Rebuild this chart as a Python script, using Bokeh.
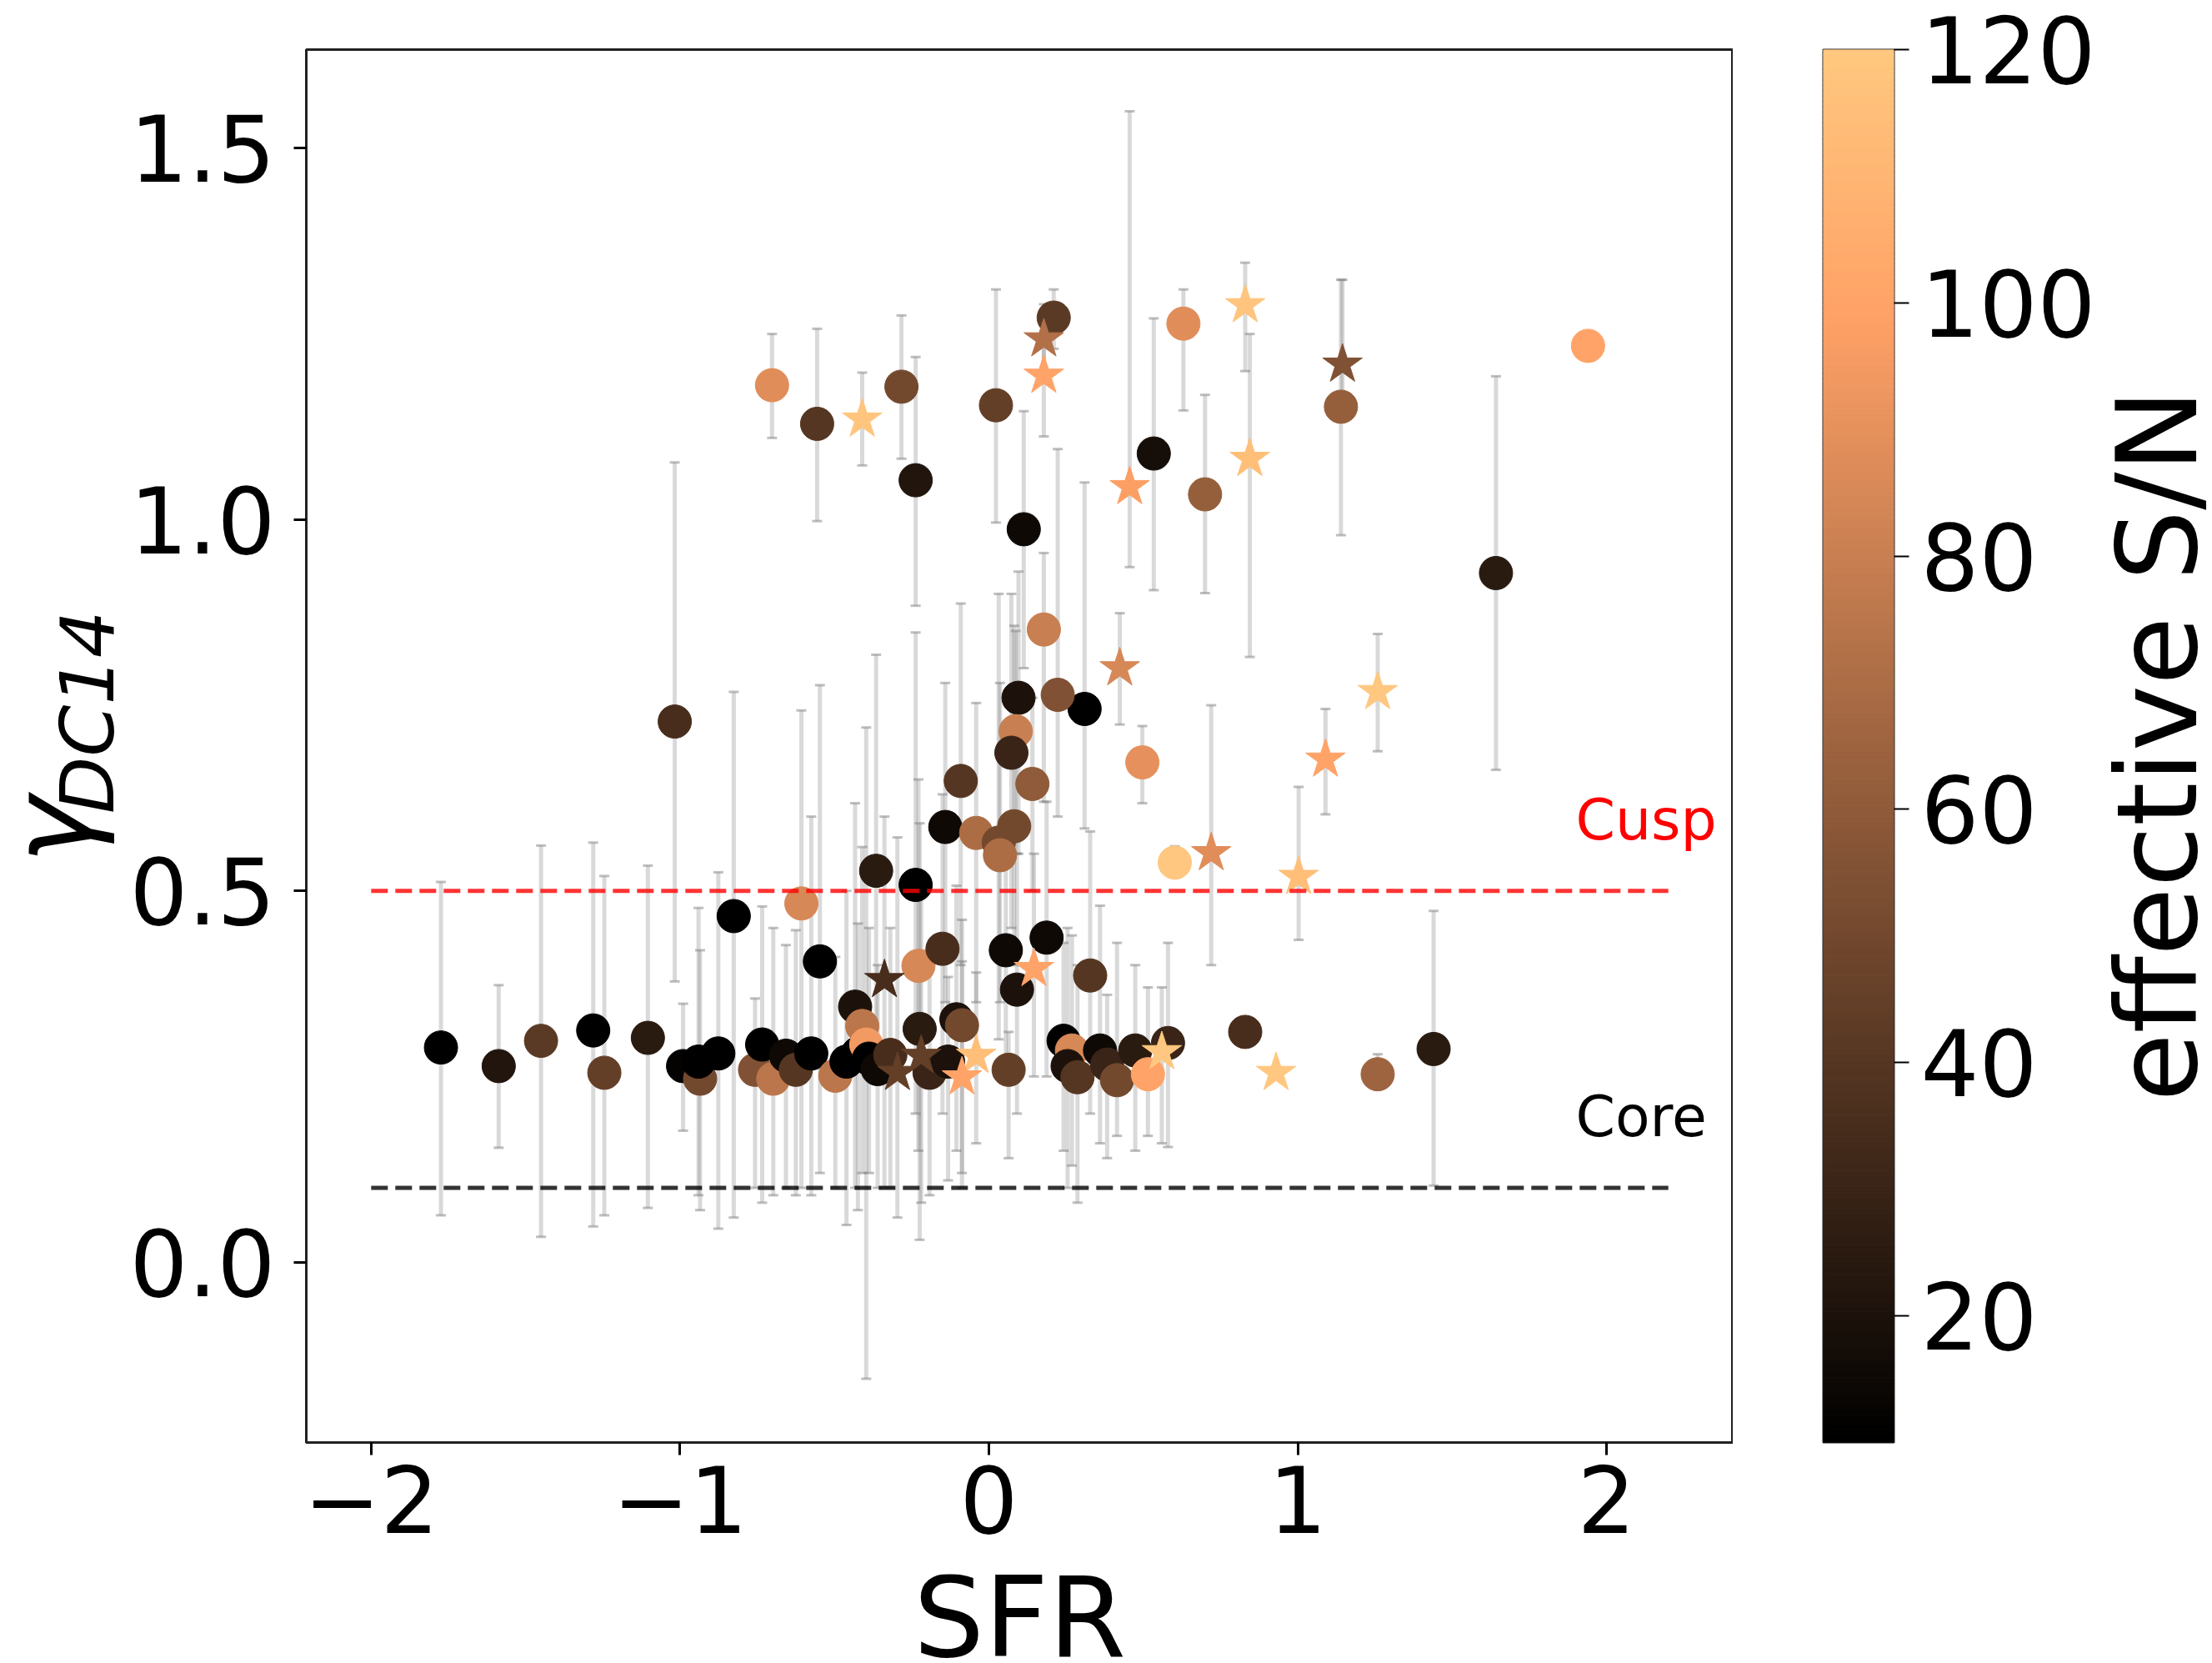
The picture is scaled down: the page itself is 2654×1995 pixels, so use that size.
import numpy as np
from bokeh.plotting import figure
from bokeh.models import ColumnDataSource, Label, FixedTicker, Range1d, PrintfTickFormatter
from bokeh.layouts import row, column
from bokeh.transform import linear_cmap
from bokeh.embed import file_html
from bokeh.resources import INLINE

# ---------------- data ----------------
sfr = [-0.702, -0.556, -0.41, -0.283, -0.237, 0.023, 0.21, 0.178, 0.178, 0.534,
       0.63, 0.83, 0.845, 0.70, 0.456, 1.145, 1.14, 1.94, 1.642, 0.113,
       0.178, 0.096, 0.31, 0.223, -1.017, 1.259, 1.09, 0.602, 0.72, 1.003,
       1.44, 1.259, 0.93, 0.83, 0.58, 0.56, 0.424, 0.497,
       0.087, 0.073, 0.141, -0.091, -0.141, -0.041, 0.082, 0.032, 0.036, -0.365,
       -0.237, -0.607, -0.826, -0.547, -0.338, -0.228, -0.15, 0.055, 0.187, 0.146,
       0.091, 0.328, -0.433, -0.41,
       -1.774, -1.587, -1.45, -1.281, -1.245, -1.104, -0.99, -0.935, -0.94, -0.876,
       -0.757, -0.734, -0.698, -0.657, -0.625, -0.575, -0.497, -0.461, -0.424, -0.397,
       -0.388, -0.36, -0.296, -0.319, -0.224, -0.219, -0.192, -0.105, -0.087, -0.041,
       -0.087, -0.132, 0.064, 0.242, 0.269, 0.255, 0.287, 0.36, 0.383, 0.415,
       0.474, 0.515]
gamma = [1.181, 1.129, 1.135, 1.179, 1.053, 1.154, 1.272, 1.243, 1.194, 1.089,
         1.264, 1.289, 1.082, 1.034, 1.044, 1.209, 1.152, 1.234, 0.928, 0.987,
         0.852, 0.760, 0.745, 0.764, 0.728, 0.768, 0.677, 0.538, 0.551, 0.519,
         0.287, 0.253, 0.255, 0.310, 0.295, 0.283, 0.800, 0.673,
         0.715, 0.686, 0.644, 0.648, 0.586, 0.578, 0.587, 0.565, 0.548, 0.527,
         0.508, 0.483, 0.466, 0.405, 0.380, 0.399, 0.422, 0.420, 0.437, 0.395,
         0.367, 0.386, 0.344, 0.318,
         0.289, 0.264, 0.298, 0.312, 0.255, 0.302, 0.264, 0.247, 0.270, 0.281,
         0.259, 0.293, 0.247, 0.278, 0.259, 0.281, 0.251, 0.270, 0.281, 0.293,
         0.274, 0.260, 0.255, 0.279, 0.314, 0.278, 0.255, 0.327, 0.319, 0.278,
         0.249, 0.270, 0.259, 0.298, 0.285, 0.264, 0.249, 0.285, 0.266, 0.245,
         0.285, 0.253]
gamma_lo = [1.11, 0.998, 1.073, 1.082, 0.884, 0.996, 1.23, 1.20, 1.112, 0.905,
            1.147, 1.20, 0.815, 0.901, 0.936, 1.15, 0.979, 1.22, 0.663, 0.80,
            0.62, 0.55, 0.584, 0.60, 0.378, 0.688, 0.603, 0.52, 0.40, 0.434,
            0.103, 0.24, 0.25, 0.30, 0.155, 0.16, 0.724, 0.618,
            0.55, 0.45, 0.50, 0.40, 0.35, 0.35, 0.40, 0.30, 0.35, 0.25,
            0.20, 0.10, 0.06, 0.12, 0.10, 0.15, 0.20, 0.25, 0.25, 0.25,
            0.20, 0.20, 0.10, 0.12,
            0.063, 0.154, 0.034, 0.048, 0.063, 0.073, 0.177, 0.07, 0.09, 0.045,
            0.10, 0.08, 0.09, 0.10, 0.09, 0.09, 0.10, 0.05, 0.07, -0.157,
            0.12, 0.10, 0.06, 0.10, 0.03, 0.08, 0.09, 0.15, 0.10, 0.16,
            0.12, 0.11, 0.14, 0.15, 0.13, 0.10, 0.08, 0.16, 0.14, 0.17,
            0.15, 0.17]
gamma_hi = [1.25, 1.257, 1.198, 1.275, 1.219, 1.31, 1.31, 1.29, 1.28, 1.271,
            1.31, 1.346, 1.25, 1.168, 1.55, 1.323, 1.323, 1.25, 1.193, 1.146,
            0.955, 0.93, 1.05, 1.095, 1.077, 0.846, 0.745, 0.56, 0.75, 0.64,
            0.473, 0.28, 0.26, 0.32, 0.43, 0.37, 0.874, 0.722,
            0.85, 0.90, 0.76, 0.887, 0.78, 0.753, 0.857, 0.90, 0.78, 0.818,
            0.848, 0.743, 0.768, 0.777, 0.60, 0.65, 0.63, 0.60, 0.62, 0.55,
            0.55, 0.58, 0.618, 0.559,
            0.512, 0.373, 0.561, 0.565, 0.52, 0.534, 0.348, 0.42, 0.477, 0.525,
            0.355, 0.479, 0.45, 0.427, 0.447, 0.60, 0.411, 0.50, 0.456, 0.72,
            0.45, 0.40, 0.572, 0.45, 0.591, 0.50, 0.42, 0.507, 0.461, 0.39,
            0.405, 0.384, 0.31, 0.43, 0.44, 0.45, 0.40, 0.48, 0.36, 0.43,
            0.40, 0.37]
snr = [88, 40, 118, 50, 22, 45, 42, 72, 100, 18,
       88, 118, 115, 62, 98, 55, 62, 100, 25, 15,
       80, 20, 10, 55, 35, 120, 100, 120, 88, 115,
       25, 65, 120, 35, 30, 120, 85, 90,
       80, 30, 60, 40, 15, 70, 50, 50, 70, 25,
       10, 85, 10, 10, 35, 85, 35, 15, 15, 100,
       20, 40, 20, 75,
       10, 22, 42, 10, 45, 25, 12, 50, 10, 10,
       55, 10, 75, 15, 40, 10, 75, 10, 10, 95,
       10, 15, 45, 35, 25, 45, 30, 20, 50, 115,
       100, 20, 45, 10, 85, 20, 40, 15, 30, 50,
       25, 100]
shape = ["o", "o", "*", "o", "o", "o", "o", "*", "*", "o",
         "o", "*", "*", "o", "*", "*", "o", "o", "o", "o",
         "o", "o", "o", "o", "o", "*", "*", "o", "*", "*",
         "o", "o", "*", "o", "o", "*", "*", "o",
         "o", "o", "o", "o", "o", "o", "o", "o", "o", "o",
         "o", "o", "o", "o", "*", "o", "o", "o", "o", "*",
         "o", "o", "o", "o",
         "o", "o", "o", "o", "o", "o", "o", "o", "o", "o",
         "o", "o", "o", "o", "o", "o", "o", "o", "o", "o",
         "o", "o", "*", "o", "o", "*", "o", "o", "o", "*",
         "*", "o", "o", "o", "o", "o", "o", "o", "o", "o",
         "o", "o"]

x_ticks = [-2, -1, 0, 1, 2]
y_ticks = [0.0, 0.5, 1.0, 1.5]
cbar_ticks = [20, 40, 60, 80, 100, 120]
sn_low, sn_high = 10, 120
cusp_level, core_level = 0.5, 0.1
line_x = [-2.0, 2.2]

# ---------------- colormap (matplotlib "copper") ----------------
def copper(n=256):
    cols = []
    for i in range(n):
        t = i / (n - 1)
        r = min(1.0, t / 0.809524)
        g = 0.7812 * t
        b = 0.4975 * t
        cols.append("#%02x%02x%02x" % (round(r * 255), round(g * 255), round(b * 255)))
    return cols

pal = copper()
cmap = linear_cmap("sn", pal, sn_low, sn_high)

FONT = "DejaVu Sans"
ROW_H = 1888
TOTAL_H = 1995


def blank(width, height):
    f = figure(width=width, height=height, x_range=Range1d(0, width), y_range=Range1d(0, height),
               output_backend="svg", toolbar_location=None, x_axis_location=None, y_axis_location=None,
               min_border=0)
    f.xgrid.visible = False
    f.ygrid.visible = False
    f.outline_line_color = None
    return f

# ---------------- y label panel ----------------
pL = blank(150, ROW_H)
pL.add_layout(Label(x=61, y=ROW_H - 1058, text="\u03b3", angle=np.pi / 2, text_align="center",
                    text_baseline="middle", text_font=FONT, text_font_style="italic",
                    text_font_size="136px", text_color="black"))
pL.add_layout(Label(x=104, y=ROW_H - 898, text="DC14", angle=np.pi / 2, text_align="center",
                    text_baseline="middle", text_font=FONT, text_font_style="italic",
                    text_font_size="89px", text_color="black"))

# ---------------- main figure ----------------
p = figure(width=1929, height=ROW_H, x_range=Range1d(-2.21, 2.41), y_range=Range1d(-0.243, 1.633),
           output_backend="svg", toolbar_location=None,
           min_border_left=217, min_border_right=0, min_border_top=59, min_border_bottom=ROW_H - 59 - 1671)
p.xgrid.visible = False
p.ygrid.visible = False
p.outline_line_color = "#222222"
p.outline_line_width = 3

for ax, ticks in ((p.xaxis, x_ticks), (p.yaxis, y_ticks)):
    ax.ticker = FixedTicker(ticks=ticks)
    ax.minor_tick_line_color = None
    ax.major_tick_out = 15
    ax.major_tick_in = 0
    ax.major_tick_line_width = 3
    ax.major_tick_line_color = "black"
    ax.axis_line_width = 3
    ax.axis_line_color = "#222222"
    ax.major_label_text_font = FONT
    ax.major_label_text_font_size = "110px"
    ax.major_label_text_color = "black"
p.yaxis.formatter = PrintfTickFormatter(format="%.1f")
p.xaxis.major_label_overrides = {-2: "\u22122", -1: "\u22121"}
p.xaxis.major_label_standoff = 12
p.yaxis.major_label_standoff = 22

src = ColumnDataSource(dict(x=sfr, y=gamma, lo=gamma_lo, hi=gamma_hi, sn=snr, m=shape))
p.segment(x0="x", y0="lo", x1="x", y1="hi", source=src, line_color="gray", line_alpha=0.3, line_width=5)
p.scatter(x="x", y="lo", source=src, marker="dash", size=12, line_color="gray", line_alpha=0.5, line_width=3)
p.scatter(x="x", y="hi", source=src, marker="dash", size=12, line_color="gray", line_alpha=0.5, line_width=3)

ci = [i for i, s in enumerate(shape) if s == "o"]
si = [i for i, s in enumerate(shape) if s == "*"]
csrc = ColumnDataSource(dict(x=[sfr[i] for i in ci], y=[gamma[i] for i in ci], sn=[snr[i] for i in ci]))
ssrc = ColumnDataSource(dict(x=[sfr[i] for i in si], y=[gamma[i] for i in si], sn=[snr[i] for i in si]))
p.scatter(x="x", y="y", source=csrc, marker="circle", size=40, fill_color=cmap, line_color=cmap, line_width=1)
p.scatter(x="x", y="y", source=ssrc, marker="star", size=50, fill_color=cmap, line_color=cmap, line_width=1)

p.line(x=line_x, y=[cusp_level, cusp_level], line_color="red", line_alpha=0.8, line_width=5, line_dash="20 9")
p.line(x=line_x, y=[core_level, core_level], line_color="black", line_alpha=0.8, line_width=5, line_dash="20 9")

p.add_layout(Label(x=1.9, y=0.596, text="Cusp", text_color="red", text_font=FONT, text_font_size="68px",
                   text_align="left", text_baseline="alphabetic"))
p.add_layout(Label(x=1.9, y=0.196, text="Core", text_color="black", text_font=FONT, text_font_size="68px",
                   text_align="left", text_baseline="alphabetic"))

# ---------------- colorbar figure ----------------
p2 = figure(width=451, height=ROW_H, x_range=Range1d(0, 1), y_range=Range1d(sn_low, sn_high),
            output_backend="svg", toolbar_location=None, y_axis_location="right",
            min_border_left=108, min_border_right=258, min_border_top=59,
            min_border_bottom=ROW_H - 59 - 1671)
p2.xaxis.visible = False
p2.xgrid.visible = False
p2.ygrid.visible = False
p2.outline_line_color = "#222222"
p2.outline_line_width = 2
levels = np.linspace(sn_low, sn_high, 257)
cb = ColumnDataSource(dict(bottom=levels[:-1], top=levels[1:], sn=0.5 * (levels[:-1] + levels[1:])))
p2.quad(left=0, right=1, bottom="bottom", top="top", source=cb, fill_color=cmap, line_color=cmap, line_width=1)
ya = p2.yaxis[0]
ya.ticker = FixedTicker(ticks=cbar_ticks)
ya.minor_tick_line_color = None
ya.major_tick_out = 18
ya.major_tick_in = 0
ya.major_tick_line_width = 2
ya.major_tick_line_color = "black"
ya.axis_line_color = None
ya.major_label_text_font = FONT
ya.major_label_text_font_size = "110px"
ya.major_label_text_color = "black"
ya.major_label_standoff = 14

# ---------------- colorbar label panel ----------------
pR = blank(124, ROW_H)
pR.add_layout(Label(x=58, y=ROW_H - 943, text="effective S/N", angle=np.pi / 2, text_align="center",
                    text_baseline="middle", text_font=FONT, text_font_size="134px", text_color="black"))

# ---------------- x label panel ----------------
pB = blank(2654, TOTAL_H - ROW_H)
pB.add_layout(Label(x=1223, y=TOTAL_H - 1984 + 44, text="SFR", text_align="center", text_baseline="alphabetic",
                    text_font=FONT, text_font_size="134px", text_color="black"))

layout = column(row(pL, p, p2, pR), pB)
open("out.html", "w").write(file_html(layout, INLINE))
